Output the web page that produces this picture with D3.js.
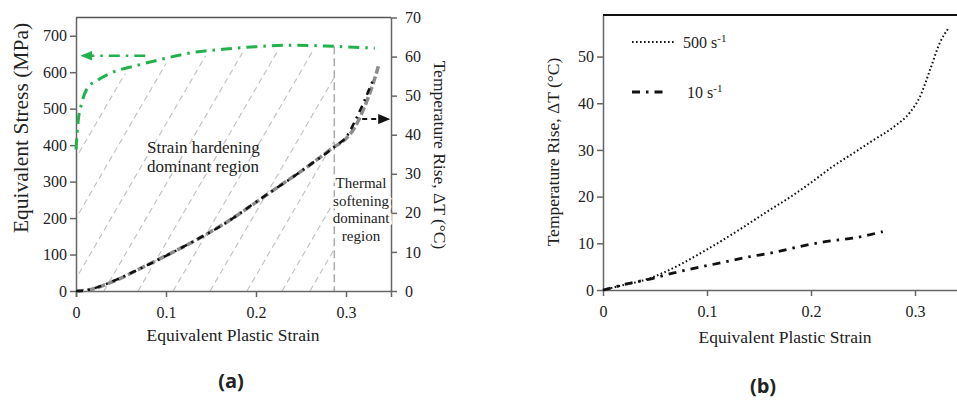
<!DOCTYPE html>
<html>
<head>
<meta charset="utf-8">
<script src="https://cdn.jsdelivr.net/npm/d3@7"></script>
<style>
  body { margin: 0; background: #fff; }
  .axis path, .axis line { stroke: #666; stroke-width: 1.5; }
</style>
</head>
<body>
<svg id="chart" width="957" height="401"></svg>
<script>
// ---- data: panel (a) ----
var strainTicks = [0, 0.1, 0.2, 0.3];
var stressTicks = [0, 100, 200, 300, 400, 500, 600, 700];
var tempTicksA = [0, 10, 20, 30, 40, 50, 60, 70];
var tempTicksB = [0, 10, 20, 30, 40, 50];

// equivalent stress (green)
var stressStrain = [0, 0.0026, 0.0056, 0.0126, 0.024, 0.041, 0.0667, 0.096, 0.13, 0.163, 0.2, 0.241, 0.286, 0.332];
var stressVals   = [388, 470, 508, 556, 578, 600, 618, 636, 654, 663, 670, 674, 671, 666];

// temperature rise (black dash-dot and grey dashed)
var tempStrainA = [0, 0.01, 0.02, 0.04, 0.06, 0.08, 0.10, 0.12, 0.14, 0.16, 0.18, 0.20, 0.22, 0.24, 0.26, 0.28, 0.29, 0.30, 0.31, 0.32, 0.33];
var tempBlackA  = [0, 0.1, 0.7, 2.4, 4.5, 6.7, 9.0, 11.4, 13.9, 16.5, 19.5, 22.8, 25.9, 29.0, 32.3, 35.6, 37.4, 39.3, 43.5, 48.5, 54.0];
var tempGreyStrain = [0, 0.015, 0.03, 0.05, 0.07, 0.09, 0.11, 0.13, 0.15, 0.17, 0.19, 0.21, 0.23, 0.25, 0.27, 0.285, 0.30, 0.31, 0.32, 0.33, 0.336];
var tempGreyA      = [0, 0.3, 1.4, 3.3, 5.6, 7.9, 10.2, 12.6, 15.2, 18.0, 21.1, 24.3, 27.5, 30.6, 34.0, 36.6, 39.0, 42.0, 46.8, 53.0, 57.5];

// hatch lines (zero-stress strain intercepts) and the softening boundary
var hatchStrain = [-0.086, -0.047, -0.008, 0.031, 0.069, 0.108, 0.149, 0.19, 0.229, 0.26];
var hatchSlope = 4245;           // MPa per unit strain
var softeningStart = 0.287;

// arrows: [strain from, strain to, value]
var greenArrow = [0.077, 0.006, 645];
var blackArrow = [0.318, 0.348, 44];

// ---- data: panel (b) ----
var strain500 = [0, 0.0128, 0.0449, 0.0737, 0.0994, 0.131, 0.16, 0.18, 0.2, 0.22, 0.24, 0.26, 0.28, 0.295, 0.305, 0.315, 0.324, 0.332];
var temp500   = [0, 0.7, 2.5, 5.4, 8.6, 12.9, 17.1, 19.9, 23.0, 26.3, 29.2, 32.1, 35.0, 38.0, 41.5, 47.5, 53.0, 56.0];
var strain10  = [0, 0.0064, 0.0224, 0.048, 0.067, 0.093, 0.115, 0.138, 0.163, 0.189, 0.215, 0.24, 0.269];
var temp10    = [0, 0.35, 1.3, 2.5, 3.6, 4.9, 5.9, 7.0, 8.0, 9.3, 10.4, 11.1, 12.5];

var green = '#22b14c';
var serif = 'Liberation Serif';
var svg = d3.select('#chart');

function zip(xs, ys) { return xs.map(function(x, i) { return [x, ys[i]]; }); }

// markers
var defs = svg.append('defs');
defs.append('marker').attr('id', 'headGreen')
    .attr('markerUnits', 'userSpaceOnUse').attr('markerWidth', 12).attr('markerHeight', 10)
    .attr('refX', 11).attr('refY', 5).attr('orient', 'auto')
    .append('path').attr('d', 'M0,0 L12,5 L0,10 Z').attr('fill', green);
defs.append('marker').attr('id', 'headBlack')
    .attr('markerUnits', 'userSpaceOnUse').attr('markerWidth', 12).attr('markerHeight', 10)
    .attr('refX', 11).attr('refY', 5).attr('orient', 'auto')
    .append('path').attr('d', 'M0,0 L12,5 L0,10 Z').attr('fill', '#111');

// =========== panel (a) ===========
var xA = d3.scaleLinear().domain([0, 0.35]).range([76, 391]);
var yS = d3.scaleLinear().domain([0, 750]).range([291, 17.5]);
var yT = d3.scaleLinear().domain([0, 70]).range([291, 17.5]);

// clip for hatch region: under the green curve, left of softening line
var greenPts = zip(stressStrain, stressVals);
var clipArea = d3.area().x(function(d) { return xA(d[0]); })
    .y0(yS(0)).y1(function(d) { return yS(d[1]) + 5; });
defs.append('clipPath').attr('id', 'hatchArea')
    .append('path').attr('d', clipArea(greenPts));
defs.append('clipPath').attr('id', 'hatchBox')
    .append('rect').attr('x', xA(0)).attr('y', yS(750))
    .attr('width', xA(softeningStart) - xA(0)).attr('height', yS(0) - yS(750));

var hatchOuter = svg.append('g').attr('clip-path', 'url(#hatchBox)');
var hatch = hatchOuter.append('g').attr('clip-path', 'url(#hatchArea)');
hatch.selectAll('line').data(hatchStrain).enter().append('line')
    .attr('x1', function(d) { return xA(d); }).attr('y1', yS(0))
    .attr('x2', function(d) { return xA(d + 750 / hatchSlope); }).attr('y2', yS(750))
    .attr('stroke', '#c4c4c4').attr('stroke-width', 1.2).attr('stroke-dasharray', '6,4');

// vertical boundary
svg.append('line')
    .attr('x1', xA(softeningStart)).attr('x2', xA(softeningStart))
    .attr('y1', yS(671)).attr('y2', yS(0))
    .attr('stroke', '#aaa').attr('stroke-width', 1.5).attr('stroke-dasharray', '8,4');

// axes
function styleAxis(g) {
    g.attr('font-family', null).attr('font-size', null);
    g.selectAll('text').style('font-family', serif).style('font-size', '16px').attr('fill', '#222');
}
svg.append('g').attr('class', 'axis').attr('transform', 'translate(0,' + yS(0) + ')')
    .call(d3.axisBottom(xA).tickValues(strainTicks).tickSize(6).tickPadding(10).tickFormat(d3.format('')))
    .call(styleAxis);
svg.append('g').attr('class', 'axis').attr('transform', 'translate(' + xA(0) + ',0)')
    .call(d3.axisLeft(yS).tickValues(stressTicks).tickSize(6).tickPadding(3).tickSizeOuter(0))
    .call(styleAxis);
svg.append('g').attr('class', 'axis').attr('transform', 'translate(' + xA(0.35) + ',0)')
    .call(d3.axisRight(yT).tickValues(tempTicksA).tickSize(6).tickPadding(8).tickSizeOuter(0))
    .call(styleAxis);
svg.append('line').attr('x1', xA(0)).attr('x2', xA(0.35)).attr('y1', yS(750)).attr('y2', yS(750))
    .attr('stroke', '#555').attr('stroke-width', 1.5);

// curves
var lineS = d3.line().x(function(d) { return xA(d[0]); }).y(function(d) { return yS(d[1]); }).curve(d3.curveMonotoneX);
var lineT = d3.line().x(function(d) { return xA(d[0]); }).y(function(d) { return yT(d[1]); }).curve(d3.curveMonotoneX);

svg.append('path').attr('d', lineS(greenPts)).attr('fill', 'none')
    .attr('stroke', green).attr('stroke-width', 3).attr('stroke-dasharray', '11,6,2.5,6');
svg.append('path').attr('d', lineT(zip(tempGreyStrain, tempGreyA))).attr('fill', 'none')
    .attr('stroke', '#8c8c8c').attr('stroke-width', 3.5).attr('stroke-dasharray', '8,3');
svg.append('path').attr('d', lineT(zip(tempStrainA, tempBlackA))).attr('fill', 'none')
    .attr('stroke', '#111').attr('stroke-width', 2.5).attr('stroke-dasharray', '7,5,2,5');

// arrows
svg.append('line')
    .attr('x1', xA(greenArrow[0])).attr('x2', xA(greenArrow[1]))
    .attr('y1', yS(greenArrow[2])).attr('y2', yS(greenArrow[2]))
    .attr('stroke', green).attr('stroke-width', 2.5).attr('stroke-dasharray', '11,6,2.5,6')
    .attr('marker-end', 'url(#headGreen)');
svg.append('line')
    .attr('x1', xA(blackArrow[0])).attr('x2', xA(blackArrow[1]))
    .attr('y1', yT(blackArrow[2])).attr('y2', yT(blackArrow[2]))
    .attr('stroke', '#111').attr('stroke-width', 2).attr('stroke-dasharray', '5,4')
    .attr('marker-end', 'url(#headBlack)');

// annotations
function txt(sel, size) {
    return sel.style('font-family', serif).style('font-size', size + 'px').attr('fill', '#222');
}
txt(svg.append('text'), 17).attr('x', 147).attr('y', 153).text('Strain hardening');
txt(svg.append('text'), 17).attr('x', 147).attr('y', 172).text('dominant region');
var thermal = ['Thermal', 'softening', 'dominant', 'region'];
txt(svg.selectAll('.thermal').data(thermal).enter().append('text'), 15)
    .attr('class', 'thermal')
    .attr('x', 361).attr('y', function(d, i) { return 188 + i * 17.5; })
    .attr('text-anchor', 'middle')
    .style('paint-order', 'stroke').attr('stroke', '#fff').attr('stroke-width', 5)
    .text(function(d) { return d; });

// axis titles
txt(svg.append('text'), 17.5).attr('x', 233).attr('y', 341).attr('text-anchor', 'middle')
    .text('Equivalent Plastic Strain');
txt(svg.append('text'), 21.5).attr('transform', 'translate(28,128) rotate(-90)').attr('text-anchor', 'middle')
    .text('Equivalent Stress (MPa)');
txt(svg.append('text'), 17.5).attr('transform', 'translate(434,155) rotate(90)').attr('text-anchor', 'middle')
    .text('Temperature Rise, ΔT (°C)');
svg.append('text').attr('x', 231).attr('y', 388).attr('text-anchor', 'middle')
    .style('font-family', 'Open Sans').style('font-weight', 'bold')
    .style('font-size', '20px').attr('fill', '#222').text('(a)');

// =========== panel (b) ===========
var xB = d3.scaleLinear().domain([0, 0.35]).range([603, 967]);
var yB = d3.scaleLinear().domain([0, 58.9]).range([290, 15]);

svg.append('g').attr('class', 'axis').attr('transform', 'translate(0,' + yB(0) + ')')
    .call(d3.axisBottom(xB).tickValues(strainTicks).tickSize(6).tickPadding(10).tickSizeOuter(0).tickFormat(d3.format('')))
    .call(styleAxis);
svg.append('g').attr('class', 'axis').attr('transform', 'translate(' + xB(0) + ',0)')
    .call(d3.axisLeft(yB).tickValues(tempTicksB).tickSize(6).tickPadding(3).tickSizeOuter(0))
    .call(styleAxis);
svg.append('line').attr('x1', xB(0)).attr('x2', xB(0.35)).attr('y1', yB(58.9)).attr('y2', yB(58.9))
    .attr('stroke', '#111').attr('stroke-width', 2);

var lineB = d3.line().x(function(d) { return xB(d[0]); }).y(function(d) { return yB(d[1]); }).curve(d3.curveMonotoneX);
svg.append('path').attr('d', lineB(zip(strain500, temp500))).attr('fill', 'none')
    .attr('stroke', '#111').attr('stroke-width', 2).attr('stroke-dasharray', '1.6,2.4');
svg.append('path').attr('d', lineB(zip(strain10, temp10))).attr('fill', 'none')
    .attr('stroke', '#111').attr('stroke-width', 2.8).attr('stroke-dasharray', '8,6,2.5,6');

// legend
var legend = svg.append('g');
legend.append('line').attr('x1', 632).attr('x2', 675).attr('y1', 42).attr('y2', 42)
    .attr('stroke', '#111').attr('stroke-width', 2).attr('stroke-dasharray', '1.6,2.4');
var t1 = txt(legend.append('text'), 16).attr('x', 683).attr('y', 48);
t1.append('tspan').text('500 s');
t1.append('tspan').attr('dy', -6).style('font-size', '11px').text('-1');
legend.append('line').attr('x1', 632).attr('x2', 668).attr('y1', 92).attr('y2', 92)
    .attr('stroke', '#111').attr('stroke-width', 3).attr('stroke-dasharray', '8,6,2.5,6');
var t2 = txt(legend.append('text'), 16).attr('x', 687).attr('y', 98);
t2.append('tspan').text('10 s');
t2.append('tspan').attr('dy', -6).style('font-size', '11px').text('-1');

txt(svg.append('text'), 17.5).attr('x', 785).attr('y', 343).attr('text-anchor', 'middle')
    .text('Equivalent Plastic Strain');
txt(svg.append('text'), 17.5).attr('transform', 'translate(559,152) rotate(-90)').attr('text-anchor', 'middle')
    .text('Temperature Rise, ΔT (°C)');
svg.append('text').attr('x', 763).attr('y', 393).attr('text-anchor', 'middle')
    .style('font-family', 'Open Sans').style('font-weight', 'bold')
    .style('font-size', '20px').attr('fill', '#222').text('(b)');
</script>
</body>
</html>
